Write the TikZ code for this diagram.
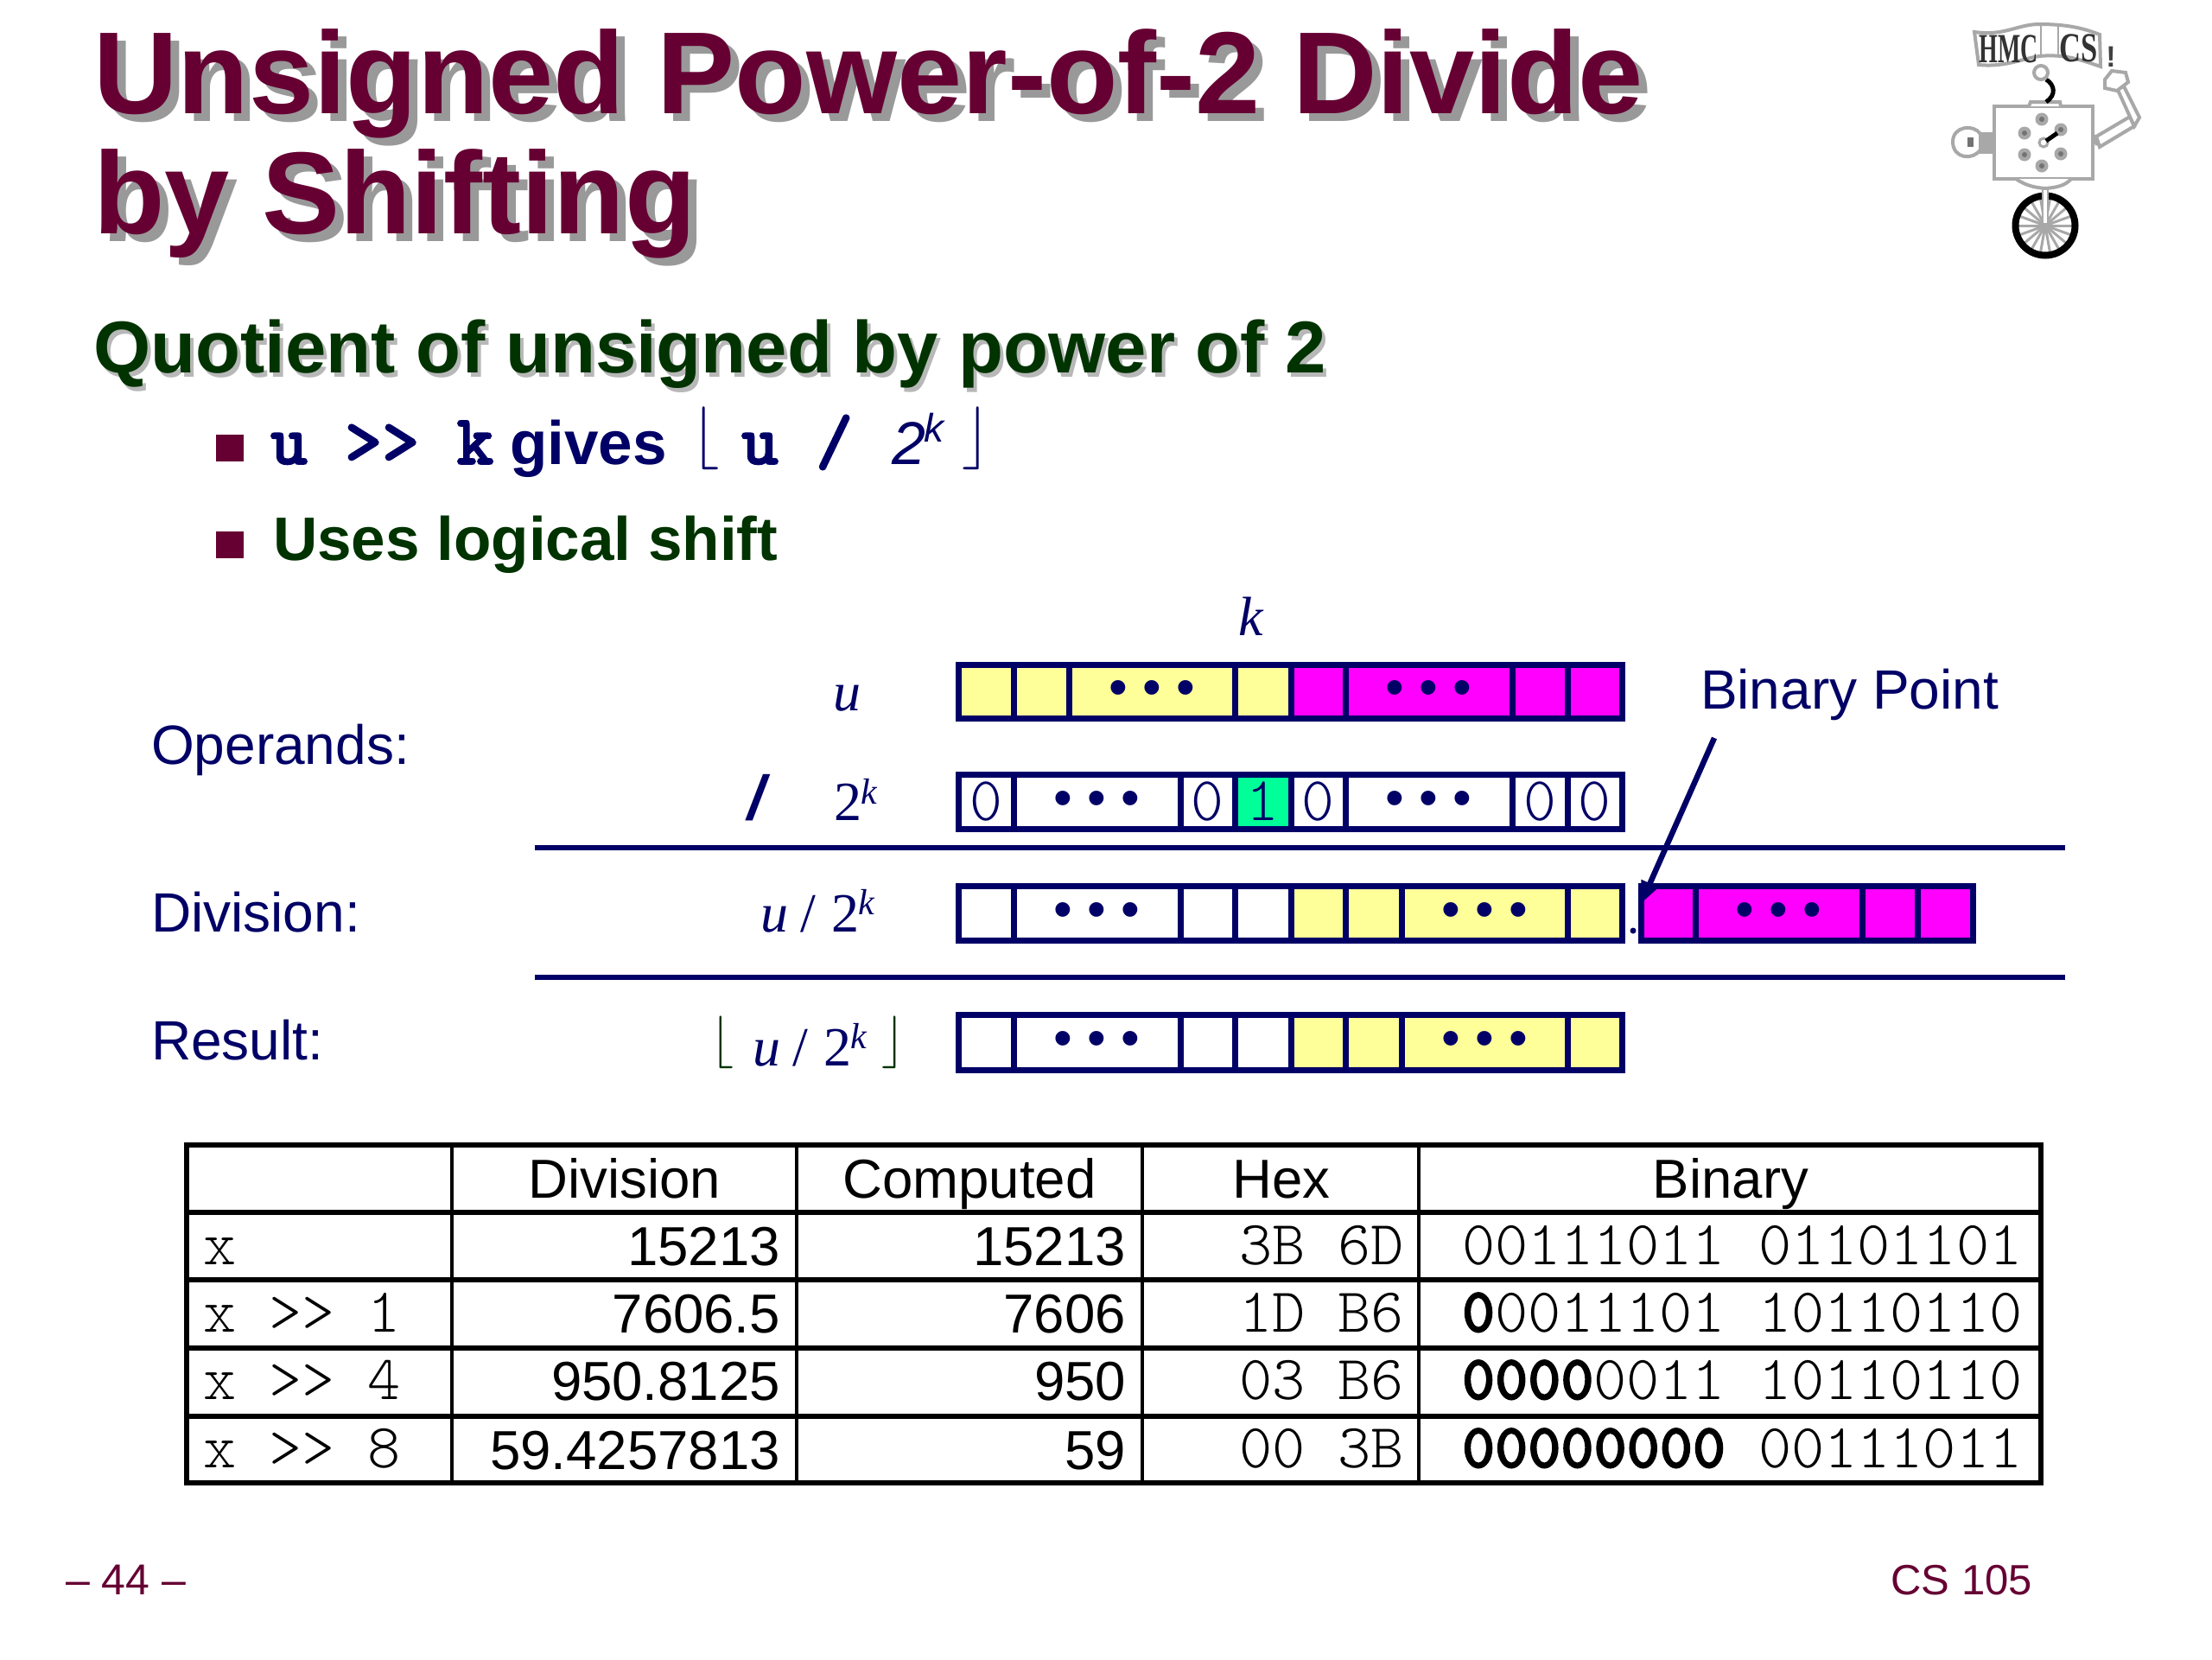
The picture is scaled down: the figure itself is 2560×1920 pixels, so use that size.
\documentclass[tikz,border=0pt]{standalone}
\usepackage{fontspec}
\usetikzlibrary{arrows.meta}
\setmainfont{Liberation Sans}
\newfontfamily\hv{Liberation Sans}
\newfontfamily\tmr{Liberation Serif}
\newfontfamily\mono[BoldFeatures={FakeBold=2}]{Latin Modern Mono Light}
\definecolor{navy}{HTML}{000066}
\definecolor{maroon}{HTML}{660033}
\definecolor{dgreen}{HTML}{003300}
\definecolor{shadow}{HTML}{999999}
\definecolor{cy}{HTML}{FFFF99}
\definecolor{cm}{HTML}{FF00FF}
\definecolor{cg}{HTML}{00FF99}
\definecolor{lg}{HTML}{A8A8A8}
\newcommand\fs[1]{\fontsize{\fpeval{#1*0.28453}}{\fpeval{#1*0.34}}\selectfont}
\newcommand\zz{\mono\fs{72}\color{navy}0}
\newcommand\one{\mono\fs{72}\color{navy}1}
\newcommand\dd{\raisebox{-0.48em}[0pt][0pt]{\hv\fs{62}\color{navy}• • •}}
\newcommand\nn{}
\newcommand\bitrow[3]{\foreach \nm/\a/\b/\f/\t in {#3}{
  \node[cellbox,fill=\f,minimum width={(\b-\a)*0.01cm},minimum height={(#2-#1)*0.01cm}] (#1\nm) at ({(\a+\b)/2},{(#1+#2)/2}) {\t};}}
\tikzset{
  lab/.style={anchor=base west,inner sep=0,outer sep=0},
  labr/.style={anchor=base east,inner sep=0,outer sep=0},
  labc/.style={anchor=base,inner sep=0,outer sep=0},
  cellbox/.style={draw=navy,line width=0.07cm,inner sep=0,outer sep=0,rectangle},
  title/.style={lab,font=\hv\bfseries\fs{135}},
  sub/.style={lab,font=\hv\bfseries\fs{85}},
  blt/.style={fill=maroon,draw=none,inner sep=0,minimum width=0.31cm,minimum height=0.31cm,rectangle},
  side/.style={lab,font=\hv\fs{64},text=navy},
  mathlab/.style={lab,font=\tmr\itshape\fs{64},text=navy},
  numlab/.style={lab,font=\tmr\fs{64},text=navy},
  suplab/.style={lab,font=\tmr\itshape\fs{42},text=navy},
  th/.style={labc,font=\hv\fs{63.5},text=black},
  tn/.style={labr,font=\hv\fs{63.5},text=black},
  tm/.style={lab,font=\mono\fs{72.6},text=black},
  tmx/.style={labr,font=\mono\fs{72.6},text=black},
  rule/.style={draw=navy,line width=0.055cm},
  tline/.style={draw=black,line width=0.055cm},
  vline/.style={draw=black,line width=0.04cm},
  logo/.style={draw=lg,line width=0.04cm,fill=white},
}
\begin{document}
\begin{tikzpicture}[x=0.01cm,y=-0.01cm]
\useasboundingbox (0,0) rectangle (2560,1920);
\fill[white] (0,0) rectangle (2560,1920);
% title
\node[title,text=shadow] (t1s) at (118,140) {Unsigned Power-of-2 Divide};
\node[title,text=shadow] (t2s) at (118,279) {by Shifting};
\node[title,text=maroon] (t1) at (108,131) {Unsigned Power-of-2 Divide};
\node[title,text=maroon] (t2) at (108,270) {by Shifting};
\node[sub,text=shadow!70] (st1s) at (112,436) {Quotient of unsigned by power of 2};
\node[sub,text=dgreen] (st1) at (108,431) {Quotient of unsigned by power of 2};
% bullets
\node[blt] (b1) at (266,518) {};
\node[blt] (b2) at (266,630) {};
\node[lab,font=\mono\bfseries\fs{82},text=navy] (uk) at (313,537) {u >> k};
\node[lab,font=\hv\bfseries\fs{71},text=navy] (gv) at (590,537) {gives};
\node[lab,font=\fs{71},text=navy] (fl) at (800,525) {$\lfloor$};
\node[lab,font=\mono\bfseries\fs{82},text=navy] (ud) at (858,537) {u /};
\node[lab,font=\hv\itshape\fs{70},text=navy] (two) at (1032,537) {2};
\node[lab,font=\hv\itshape\fs{46},text=navy] (kk) at (1069,511) {k};
\node[lab,font=\fs{71},text=navy] (fr) at (1113,525) {$\rfloor$};
\node[lab,font=\hv\bfseries\fs{71},text=dgreen] (ul) at (316,648) {Uses logical shift};
% side labels
\node[side] (op) at (175,884) {Operands:};
\node[side] (dv) at (175,1078) {Division:};
\node[side] (rs) at (175,1226) {Result:};
\node[side] (bp) at (1968,820) {Binary Point};
% math labels
\node[mathlab] (lk) at (1433,735) {k};
\node[mathlab] (lu) at (964,822) {u};
\node[lab,font=\hv\bfseries\itshape\fs{72},text=navy] (ls) at (865,948) {/};
\node[numlab] (l2) at (965,949) {2};
\node[suplab] (l2k) at (996,930) {k};
\node[mathlab] (du) at (880,1078) {u};
\node[lab,font=\tmr\fs{64},text=navy] (ds) at (926,1078) {/};
\node[numlab] (d2) at (962,1078) {2};
\node[suplab] (d2k) at (993,1058) {k};
\node[lab,font=\fs{63},text=dgreen] (rl) at (822,1221) {$\lfloor$};
\node[mathlab] (ru) at (871,1233) {u};
\node[lab,font=\tmr\fs{64},text=navy] (rsl) at (917,1233) {/};
\node[numlab] (r2) at (953,1233) {2};
\node[suplab] (r2k) at (984,1213) {k};
\node[lab,font=\fs{63},text=dgreen] (rr) at (1020,1221) {$\rfloor$};
% bit rows
\bitrow{769}{831}{a/1109/1173/cy/\nn,b/1173/1237/cy/\nn,c/1237/1429/cy/\dd,d/1429/1494/cy/\nn,e/1494/1557/cm/\nn,f/1557/1750/cm/\dd,g/1750/1814/cm/\nn,h/1814/1877/cm/\nn}
\bitrow{896}{959}{a/1109/1173/white/\zz,b/1173/1366/white/\dd,c/1366/1429/white/\zz,d/1429/1494/cg/\one,e/1494/1557/white/\zz,f/1557/1750/white/\dd,g/1750/1814/white/\zz,h/1814/1877/white/\zz}
\bitrow{1025}{1088}{a/1109/1173/white/\nn,b/1173/1366/white/\dd,c/1366/1429/white/\nn,d/1429/1494/white/\nn,e/1494/1557/cy/\nn,f/1557/1622/cy/\nn,g/1622/1814/cy/\dd,h/1814/1877/cy/\nn,i/1899/1962/cm/\nn,j/1962/2155/cm/\dd,k/2155/2219/cm/\nn,l/2219/2283/cm/\nn}
\bitrow{1174}{1238}{a/1109/1173/white/\nn,b/1173/1366/white/\dd,c/1366/1429/white/\nn,d/1429/1494/white/\nn,e/1494/1557/cy/\nn,f/1557/1622/cy/\nn,g/1622/1814/cy/\dd,h/1814/1877/cy/\nn}
% rules
\coordinate (r1a) at (619,981); \coordinate (r1b) at (2390,981);
\coordinate (r2a) at (619,1131); \coordinate (r2b) at (2390,1131);
\draw[rule] (r1a) -- (r1b);
\draw[rule] (r2a) -- (r2b);
% binary point
\node[circle,fill=navy,inner sep=0,minimum size=0.07cm] (pt) at (1890,1077) {};
\coordinate (bpa) at (1984,854); \coordinate (bpb) at (1899,1046);
\draw[navy,line width=0.065cm,-{Stealth[length=0.26cm,width=0.2cm,inset=0pt]}] (bpa) -- (bpb);
% table
\coordinate (tl) at (216,1325); \coordinate (br) at (2362,1716);
\foreach \y in {1403,1481,1560,1639}{\draw[tline] (216,\y) -- (2362,\y);}
\foreach \x in {523,922,1322,1642}{\draw[vline] (\x,1325) -- (\x,1716);}
\draw[tline] (tl) rectangle (br);
\node[th] (h1) at (723,1386) {Division};
\node[th] (h2) at (1122,1386) {Computed};
\node[th] (h3) at (1483,1386) {Hex};
\node[th] (h4) at (2003,1386) {Binary};
\node[tm] (c10) at (235,1463) {x};
\node[tm] (c20) at (235,1541) {x >> 1};
\node[tm] (c30) at (235,1619) {x >> 4};
\node[tm] (c40) at (235,1698) {x >> 8};
\node[tn] (c11) at (903,1464) {15213};
\node[tn] (c21) at (903,1542) {7606.5};
\node[tn] (c31) at (903,1620) {950.8125};
\node[tn] (c41) at (903,1700) {59.4257813};
\node[tn] (c12) at (1303,1464) {15213};
\node[tn] (c22) at (1303,1542) {7606};
\node[tn] (c32) at (1303,1620) {950};
\node[tn] (c42) at (1303,1700) {59};
\node[tmx] (c13) at (1625,1463) {3B 6D};
\node[tmx] (c23) at (1625,1541) {1D B6};
\node[tmx] (c33) at (1625,1619) {03 B6};
\node[tmx] (c43) at (1625,1698) {00 3B};
\node[tm] (c14) at (1692,1463) {00111011 01101101};
\node[tm] (c24) at (1692,1541) {{\bfseries 0}0011101 10110110};
\node[tm] (c34) at (1692,1619) {{\bfseries 0000}0011 10110110};
\node[tm] (c44) at (1692,1698) {{\bfseries 00000000} 00111011};
% footer
\node[lab,font=\hv\fs{50},text=maroon] (f1) at (76,1845) {– 44 –};
\node[labr,font=\hv\fs{49},text=maroon] (f2) at (2352,1845) {CS 105};
% logo
\draw[logo,fill=white] (2285,37) .. controls (2320,42) and (2335,28) .. (2360,28) .. controls (2390,28) and (2410,32) .. (2430,40) -- (2431,77) .. controls (2410,70) and (2390,62) .. (2360,65) .. controls (2340,68) and (2320,78) .. (2290,75) -- cycle;
\draw[lg,line width=0.025cm] (2362,29) -- (2362,65) (2382,30) -- (2382,65);
\node[font=\tmr\bfseries\fs{48},text=black!80,xscale=0.58,inner sep=0] (lh) at (2325,57) {HMC};
\node[font=\tmr\bfseries\fs{48},text=black!80,xscale=0.72,inner sep=0] (lc) at (2406,56) {CS};
\node[font=\hv\bfseries\fs{34},text=black!75,inner sep=0] (lx) at (2443,66) {!};
% robot
\draw[logo] (2308,123) rectangle (2422,207);
\draw[logo] (2348,123) -- (2350,118) -- (2384,118) -- (2385,123);
\draw[black,line width=0.05cm] (2368,118) .. controls (2380,110) and (2378,98) .. (2368,92);
\draw[lg,line width=0.04cm] (2362,84) circle (8);
\foreach \px/\py in {2363/138,2385/150,2343/154,2343/179,2385/178,2363/192}{\fill[lg] (\px,\py) circle (7.5); \fill[black!55] (\px,\py) circle (3);}
\draw[lg,line width=0.03cm] (2365,165) circle (5);
\draw[black,line width=0.05cm] (2368,163) -- (2381,154);
% left hand
\draw[logo] (2292,155) .. controls (2284,143) and (2260,146) .. (2260,164) .. controls (2260,184) and (2284,186) .. (2292,173) -- cycle;
\fill[black!55] (2277,159) rectangle (2284,170);
\fill[lg] (2290,153) rectangle (2308,178);
% right arm
\draw[logo] (2426,158) -- (2465,135) -- (2470,146) -- (2430,170) -- cycle;
\draw[logo] (2465,135) -- (2450,102) -- (2458,100) -- (2476,136) -- (2470,146) -- cycle;
\draw[logo] (2436,92) -- (2444,82) -- (2460,84) -- (2463,95) -- (2450,105) -- (2436,102) -- cycle;
\draw[lg,line width=0.04cm] (2422,155) -- (2427,168);
% wheel
\draw[logo] (2333,207) .. controls (2345,215) and (2355,217) .. (2367,218) .. controls (2380,217) and (2390,215) .. (2397,207);
\foreach \ang in {0,20,...,340}{\draw[lg,line width=0.03cm] (2367,261) -- ++(\ang:32);}
\draw[black,line width=0.08cm] (2367,261) circle (34.5);
\draw[white,line width=0.05cm] (2367,220) -- (2367,258);
\draw[lg,line width=0.02cm] (2364,216) -- (2364,260) (2370,216) -- (2370,260);
\end{tikzpicture}
\end{document}
